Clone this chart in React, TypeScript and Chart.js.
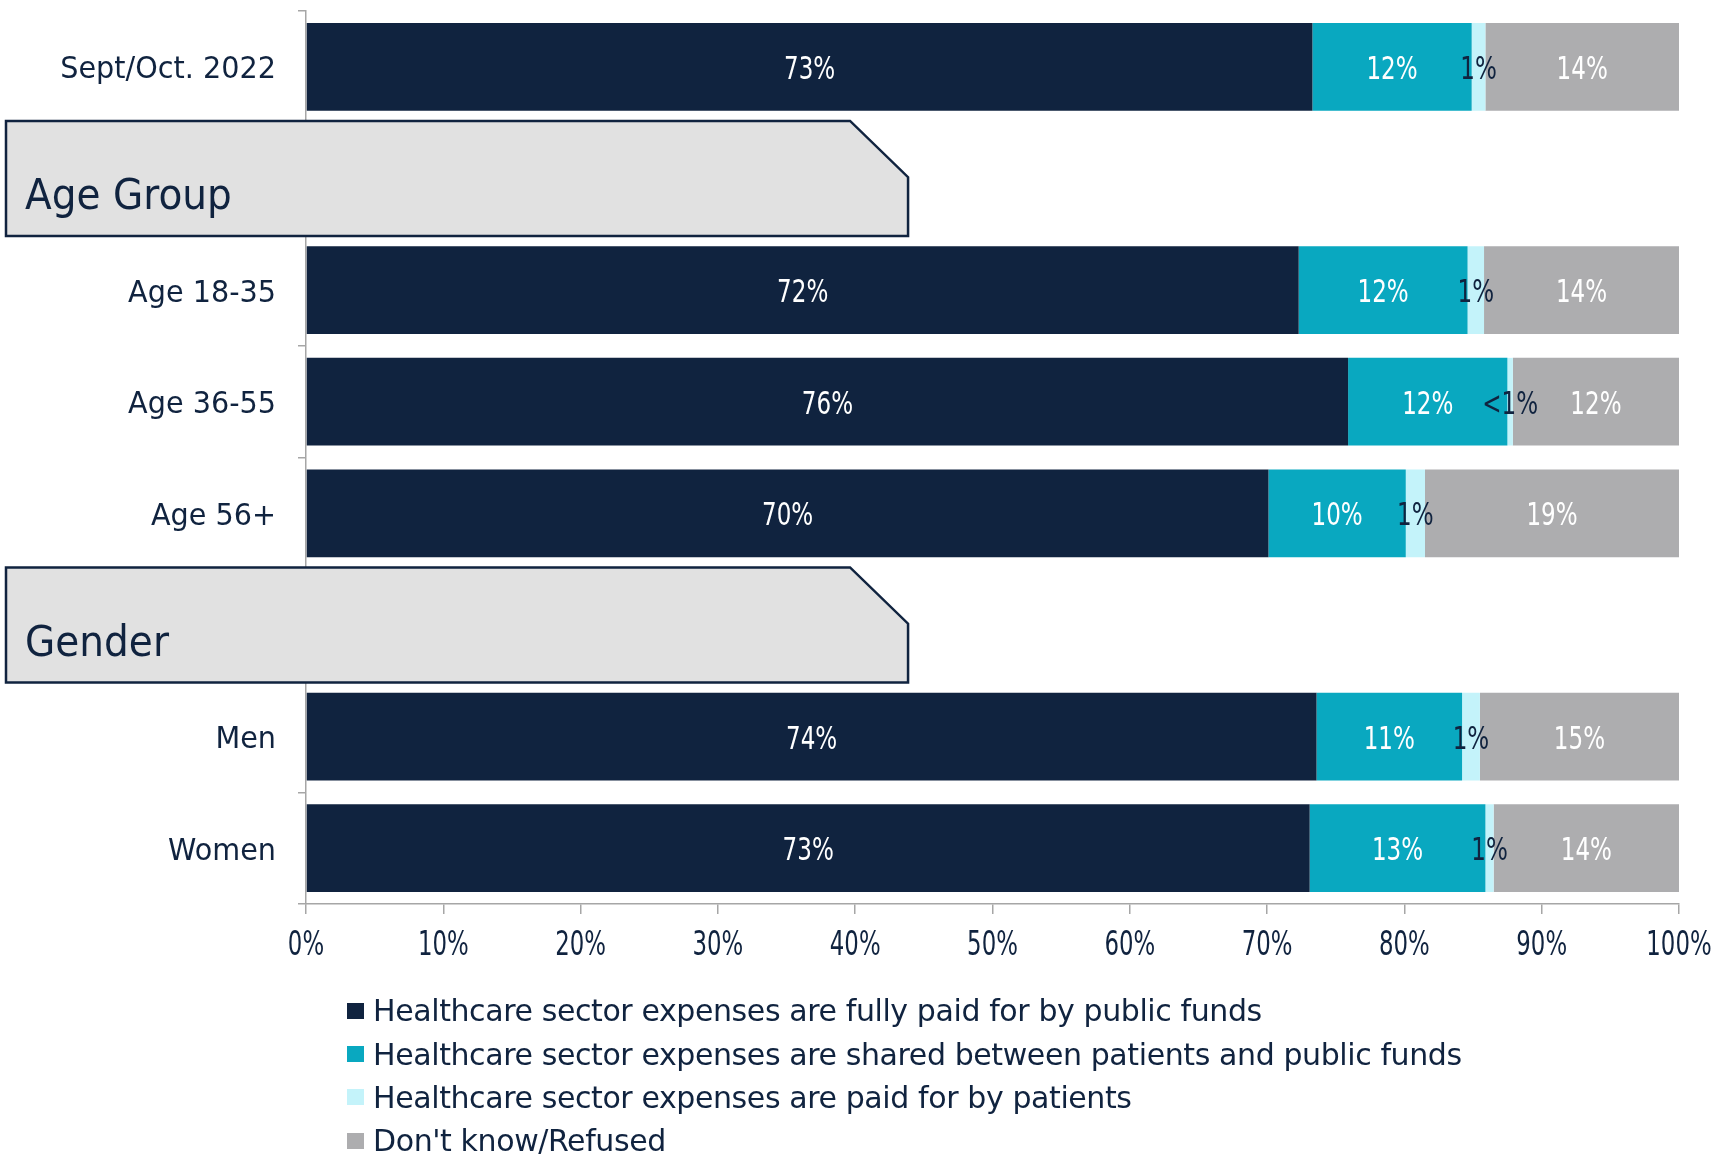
import React, { useEffect, useRef } from "react";
import { Chart, registerables } from "chart.js";

Chart.register(...registerables);

// ---- data ----
const categories = ["Sept/Oct. 2022", "Age Group", "Age 18-35", "Age 36-55", "Age 56+", "Gender", "Men", "Women"];
const sectionHeaders = ["Age Group", "Gender"];
const seriesNames = [
  "Healthcare sector expenses are fully paid for by public funds",
  "Healthcare sector expenses are shared between patients and public funds",
  "Healthcare sector expenses are paid for by patients",
  "Don't know/Refused",
];
const publicFunds = [73.3, null, 72.3, 75.9, 70.1, null, 73.6, 73.1];
const sharedCosts = [11.6, null, 12.3, 11.6, 10.0, null, 10.6, 12.8];
const paidByPatients = [1.0, null, 1.2, 0.4, 1.4, null, 1.3, 0.6];
const dontKnow = [14.1, null, 14.2, 12.1, 18.5, null, 14.5, 13.5];
const xTickValues = [0, 10, 20, 30, 40, 50, 60, 70, 80, 90, 100];

// ---- styles ----
const NAVY = "#10233f";
const seriesColors = [NAVY, "#09a8c0", "#c4f3fa", "#adadaf"];
const labelColors = ["#ffffff", "#ffffff", NAVY, "#ffffff"];
const AXIS_GRAY = "#a6a6a6";
const FONT = "'DejaVu Sans', 'Noto Sans', sans-serif";
const NUM_FONT = "'DejaVu Sans Condensed', 'DejaVu Sans', sans-serif";

const fmt = (v: number) => (v < 0.5 ? "<1%" : Math.round(v) + "%");

function drawNarrowText(ctx: CanvasRenderingContext2D, text: string, x: number, y: number, sx: number) {
  ctx.save();
  ctx.translate(x, y);
  ctx.scale(sx, 1);
  ctx.fillText(text, 0, 0);
  ctx.restore();
}

const valueLabelPlugin = {
  id: "valueLabels",
  afterDatasetsDraw(chart: any) {
    const ctx = chart.ctx;
    ctx.save();
    ctx.font = `32px ${NUM_FONT}`;
    ctx.textAlign = "center";
    ctx.textBaseline = "alphabetic";
    chart.data.datasets.forEach((ds: any, di: number) => {
      const meta = chart.getDatasetMeta(di);
      meta.data.forEach((el: any, i: number) => {
        const v = ds.data[i];
        if (v === null || v === undefined) return;
        const cx = (el.x + el.base) / 2;
        ctx.fillStyle = labelColors[di];
        drawNarrowText(ctx, fmt(v), cx, el.y + 12, 0.8);
      });
    });
    ctx.restore();
  },
};

const axisLabelPlugin = {
  id: "axisLabels",
  afterDraw(chart: any) {
    const ctx = chart.ctx;
    const x = chart.scales.x;
    const y = chart.scales.y;
    ctx.save();
    ctx.fillStyle = NAVY;
    ctx.textBaseline = "alphabetic";
    // x tick labels
    ctx.font = `33px ${NUM_FONT}`;
    ctx.textAlign = "center";
    x.ticks.forEach((t: any) => {
      drawNarrowText(ctx, t.value + "%", x.getPixelForValue(t.value), x.top + 51, 0.77);
    });
    // y category labels
    ctx.font = `31px ${FONT}`;
    ctx.textAlign = "right";
    categories.forEach((c, i) => {
      if (sectionHeaders.includes(c)) return;
      drawNarrowText(ctx, c, y.right - 30, y.getPixelForValue(i) + 11.5, 0.925);
    });
    ctx.restore();
  },
};

const sectionBoxPlugin = {
  id: "sectionBoxes",
  afterDraw(chart: any) {
    const ctx = chart.ctx;
    const y = chart.scales.y;
    const area = chart.chartArea;
    const slot = y.getPixelForValue(1) - y.getPixelForValue(0);
    const L = 6;
    const R = area.left + 0.4385 * (area.right - area.left);
    const cut = 58;
    ctx.save();
    categories.forEach((c, i) => {
      if (!sectionHeaders.includes(c)) return;
      const yc = y.getPixelForValue(i);
      const T = yc - 0.515 * slot;
      const B = yc + 0.515 * slot;
      ctx.beginPath();
      ctx.moveTo(L, T);
      ctx.lineTo(R - cut, T);
      ctx.lineTo(R, T + cut * 0.97);
      ctx.lineTo(R, B);
      ctx.lineTo(L, B);
      ctx.closePath();
      ctx.fillStyle = "#e1e1e1";
      ctx.fill();
      ctx.lineWidth = 2.5;
      ctx.strokeStyle = NAVY;
      ctx.stroke();
      ctx.fillStyle = NAVY;
      ctx.font = `42px ${FONT}`;
      ctx.textAlign = "left";
      ctx.textBaseline = "alphabetic";
      drawNarrowText(ctx, c, 25, yc + 31, 0.93);
    });
    ctx.restore();
  },
};

export default function App() {
  const ref = useRef<HTMLCanvasElement | null>(null);

  useEffect(() => {
    if (!ref.current) return;
    const chart = new Chart(ref.current, {
      type: "bar",
      data: {
        labels: categories,
        datasets: [publicFunds, sharedCosts, paidByPatients, dontKnow].map((d, i) => ({
          label: seriesNames[i],
          data: d as any,
          backgroundColor: seriesColors[i],
          borderWidth: 0,
          barPercentage: 0.785,
          categoryPercentage: 1,
        })),
      },
      options: {
        indexAxis: "y",
        responsive: false,
        maintainAspectRatio: false,
        animation: false,
        layout: { padding: { left: 0, right: 37, top: 11, bottom: 191 } },
        plugins: { legend: { display: false }, tooltip: { enabled: false } },
        scales: {
          x: {
            stacked: true,
            min: 0,
            max: 100,
            afterBuildTicks: (s: any) => {
              s.ticks = xTickValues.map((v) => ({ value: v }));
            },
            afterFit: (s: any) => {
              s.height = 60;
              s.paddingLeft = 0;
              s.paddingRight = 0;
            },
            ticks: { display: false, autoSkip: false },
            grid: { drawOnChartArea: false, drawTicks: true, tickLength: 10, color: AXIS_GRAY, lineWidth: 1.5 },
            border: { color: AXIS_GRAY, width: 1.5 },
          },
          y: {
            stacked: true,
            afterFit: (s: any) => {
              s.width = 306;
              s.paddingTop = 0;
              s.paddingBottom = 0;
            },
            ticks: { display: false, autoSkip: false },
            grid: { drawOnChartArea: false, offset: true, drawTicks: true, tickLength: 8, color: AXIS_GRAY, lineWidth: 1.5 },
            border: { color: AXIS_GRAY, width: 1.5 },
          },
        },
      },
      plugins: [valueLabelPlugin, axisLabelPlugin, sectionBoxPlugin],
    } as any);
    return () => chart.destroy();
  }, []);

  return (
    <div style={{ position: "fixed", left: 0, top: 0, width: 1716, height: 1155, background: "#ffffff", overflow: "hidden" }}>
      <canvas ref={ref} width={1716} height={1155} style={{ width: 1716, height: 1155, display: "block" }} />
      <div style={{ position: "absolute", left: 347, top: 989, fontFamily: FONT, fontSize: 30, letterSpacing: -0.4, color: NAVY }}>
        {seriesNames.map((n, i) => (
          <div key={n} style={{ display: "flex", alignItems: "center", height: 43.4, whiteSpace: "nowrap" }}>
            <span style={{ display: "inline-block", width: 17, height: 16, background: seriesColors[i], marginRight: 9 }} />
            <span>{n}</span>
          </div>
        ))}
      </div>
    </div>
  );
}
